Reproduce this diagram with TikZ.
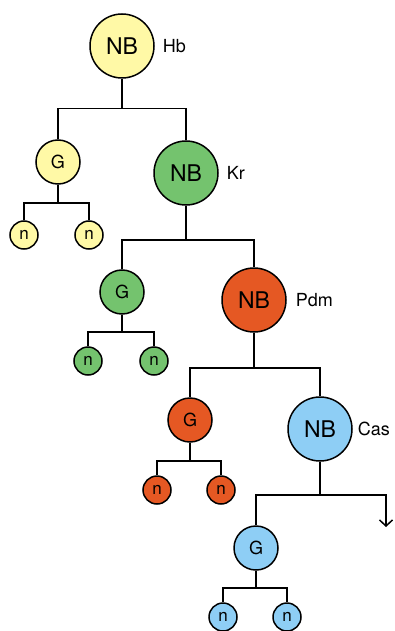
\documentclass[tikz,border=0pt]{standalone}
\usepackage{fontspec}
\setmainfont{TeX Gyre Heros}
\usetikzlibrary{positioning}
\usetikzlibrary{arrows.meta}
\definecolor{hbcol}{RGB}{255,249,166}
\definecolor{krcol}{RGB}{116,195,110}
\definecolor{pdmcol}{RGB}{229,88,35}
\definecolor{cascol}{RGB}{142,206,245}
\tikzset{>={Straight Barb[length=6pt,width=13pt]}}
\tikzset{nb/.style={draw,circle,line width=1.5pt,minimum size=64pt,inner sep=0pt,font=\fontsize{23}{23}\selectfont}}
\tikzset{gn/.style={draw,circle,line width=1.5pt,minimum size=44pt,inner sep=0pt,font=\fontsize{18}{18}\selectfont}}
\tikzset{leaf/.style={draw,circle,line width=1.5pt,minimum size=28pt,inner sep=0pt,font=\fontsize{17}{17}\selectfont}}
\tikzset{lbl/.style={inner sep=0pt,font=\fontsize{18}{18}\selectfont}}
\tikzset{br/.style={line width=1.5pt}}

\begin{document}
\begin{tikzpicture}[x=1pt,y=-1pt]
        \useasboundingbox (0,0) rectangle (394,631);

        \node[nb, fill=hbcol] (hb) at (122,46) {NB};
        \node[gn, fill=hbcol] (g1) at (58,162) {G};
        \node[nb, fill=krcol] (kr) at (186,173) {NB};
        \node[leaf, fill=hbcol] (n1a) at (24,235) {n};
        \node[leaf, fill=hbcol] (n1b) at (89,235) {n};

        \node[gn, fill=krcol] (g2) at (122,292) {G};
        \node[nb, fill=pdmcol] (pdm) at (254,300) {NB};
        \node[leaf, fill=krcol] (n2a) at (88,361) {n};
        \node[leaf, fill=krcol] (n2b) at (154,361) {n};

        \node[gn, fill=pdmcol] (g3) at (190,420) {G};
        \node[nb, fill=cascol] (cas) at (320,429) {NB};
        \node[leaf, fill=pdmcol] (n3a) at (157,490) {n};
        \node[leaf, fill=pdmcol] (n3b) at (221,490) {n};

        \node[gn, fill=cascol] (g4) at (256,548) {G};
        \node[leaf, fill=cascol] (n4a) at (223,617) {n};
        \node[leaf, fill=cascol] (n4b) at (287,617) {n};

        \node[lbl, right=8pt of hb] {Hb};
        \node[lbl, right=8pt of kr] {Kr};
        \node[lbl, right=9pt of pdm] {Pdm};
        \node[lbl, right=5pt of cas] {Cas};

        \coordinate (tail) at (386,527);

        % branch bars
        \draw[br] (hb.south) -- ++(0,30) coordinate (b1);
        \draw[br] (g1.north) |- (b1) -| (kr.north);
        \draw[br] (g1.south) -- ++(0,18) coordinate (c1);
        \draw[br] (n1a.north) |- (c1) -| (n1b.north);

        \draw[br] (kr.south) -- ++(0,34) coordinate (b2);
        \draw[br] (g2.north) |- (b2) -| (pdm.north);
        \draw[br] (g2.south) -- ++(0,17) coordinate (c2);
        \draw[br] (n2a.north) |- (c2) -| (n2b.north);

        \draw[br] (pdm.south) -- ++(0,35) coordinate (b3);
        \draw[br] (g3.north) |- (b3) -| (cas.north);
        \draw[br] (g3.south) -- ++(0,18) coordinate (c3);
        \draw[br] (n3a.north) |- (c3) -| (n3b.north);

        \draw[br] (cas.south) -- ++(0,33) coordinate (b4);
        \draw[br] (g4.north) |- (b4);
        \draw[br,->] (b4) -| (tail);
        \draw[br] (g4.south) -- ++(0,17) coordinate (c4);
        \draw[br] (n4a.north) |- (c4) -| (n4b.north);
\end{tikzpicture}
\end{document}
